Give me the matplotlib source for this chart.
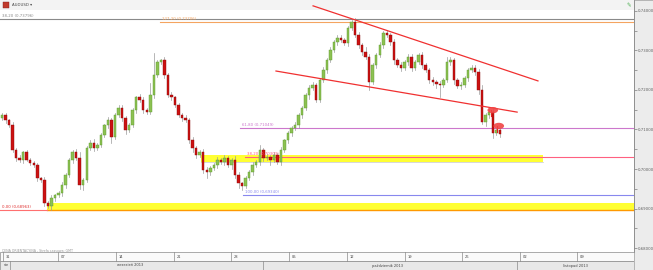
import matplotlib
matplotlib.use('Agg')
import matplotlib.pyplot as plt
from matplotlib.patches import Rectangle, Ellipse

# Kurs zamkniecia swiec (AUDUSD)
closes = [
    0.7137, 0.7124, 0.7111, 0.7048, 0.7028, 0.7023, 0.7043, 0.7023, 0.7015, 0.7010,
    0.6977, 0.6972, 0.6914, 0.6906, 0.6926, 0.6934, 0.6939, 0.6959, 0.6985, 0.7023,
    0.7043, 0.7028, 0.6959, 0.6972, 0.7053, 0.7066, 0.7053, 0.7061, 0.7086, 0.7111,
    0.7124, 0.7081, 0.7137, 0.7154, 0.7129, 0.7099, 0.7111, 0.7149, 0.7182, 0.7175,
    0.7149, 0.7144, 0.7187, 0.7238, 0.7271, 0.7276, 0.7238, 0.7187, 0.7182, 0.7162,
    0.7137, 0.7129, 0.7124, 0.7073, 0.7053, 0.7035, 0.7043, 0.6997, 0.6992, 0.7002,
    0.7010, 0.7023, 0.7018, 0.7028, 0.7010, 0.7023, 0.6985, 0.6964, 0.6957, 0.6977,
    0.6992, 0.7010, 0.7018, 0.7048, 0.7028, 0.7030, 0.7023, 0.7035, 0.7018, 0.7048,
    0.7073, 0.7091, 0.7104, 0.7111, 0.7137, 0.7154, 0.7187, 0.7205, 0.7213, 0.7175,
    0.7225, 0.7251, 0.7276, 0.7301, 0.7321, 0.7332, 0.7327, 0.7319, 0.7357, 0.7372,
    0.7339, 0.7314, 0.7296, 0.7283, 0.7220, 0.7263, 0.7289, 0.7314, 0.7344, 0.7339,
    0.7321, 0.7276, 0.7263, 0.7256, 0.7271, 0.7283, 0.7256, 0.7271, 0.7289, 0.7263,
    0.7251, 0.7225, 0.7220, 0.7215, 0.7213, 0.7225, 0.7271, 0.7276, 0.7225, 0.7210,
    0.7213, 0.7230, 0.7251, 0.7256, 0.7246, 0.7200, 0.7119, 0.7137, 0.7144, 0.7091,
    0.7099, 0.7089,
]
first_open = 0.7130

# Cienie swiec w pipsach (gorny / dolny)
up_wick = [
    4, 6, 3, 8, 5, 7, 3, 6, 4, 5,
    6, 4, 8, 5, 7, 3, 6, 9, 4, 5,
    6, 8, 14, 5, 4, 7, 9, 5, 6, 4,
    8, 6, 5, 7, 9, 4, 6, 5, 4, 7,
    6, 5, 30, 55, 6, 3, 7, 5, 8, 4,
    6, 5, 7, 4, 8, 6, 5, 7, 9, 6,
    5, 8, 6, 7, 5, 6, 9, 7, 4, 6,
    5, 7, 6, 12, 5, 8, 6, 9, 5, 7,
    4, 6, 5, 7, 4, 6, 5, 8, 6, 4,
    5, 6, 4, 7, 5, 6, 8, 4, 5, 5,
    9, 7, 6, 12, 8, 6, 5, 7, 6, 8,
    5, 7, 6, 9, 5, 7, 8, 6, 5, 7,
    6, 5, 7, 6, 8, 5, 12, 8, 6, 5,
    7, 6, 5, 8, 6, 7, 12, 6, 7, 9,
    6, 5,
]
lo_wick = [
    5, 7, 4, 6, 8, 5, 7, 4, 6, 5,
    8, 6, 7, 5, 10, 6, 5, 7, 6, 4,
    7, 5, 9, 12, 6, 5, 7, 4, 6, 5,
    7, 14, 5, 6, 8, 10, 6, 5, 7, 6,
    8, 6, 5, 7, 4, 6, 8, 5, 7, 6,
    5, 8, 6, 7, 9, 6, 5, 8, 14, 6,
    5, 7, 6, 8, 5, 9, 7, 12, 11, 6,
    5, 8, 6, 7, 9, 6, 12, 5, 6, 7,
    5, 6, 7, 5, 6, 8, 5, 9, 6, 5,
    6, 5, 7, 6, 5, 8, 6, 5, 7, 6,
    6, 8, 7, 5, 20, 6, 7, 5, 8, 6,
    7, 9, 6, 8, 6, 7, 9, 6, 5, 8,
    6, 7, 8, 10, 30, 6, 5, 7, 9, 6,
    8, 6, 7, 5, 8, 9, 6, 10, 7, 12,
    6, 8,
]

# Os cen
price_ticks = [0.68, 0.69, 0.70, 0.71, 0.72, 0.73, 0.74]
price_labels = ['0,68000', '0,69000', '0,70000', '0,71000', '0,72000', '0,73000', '0,74000']

# Os czasu (pozycje w numerach swiec)
day_pos = [0.3, 15.9, 32.3, 48.7, 64.9, 81.3, 97.7, 114.2, 130.3, 146.7, 162.9]
day_labels = ['31', '07', '14', '21', '28', '05', '12', '19', '26', '02', '09']
month_sep = [2.3, 73.9, 145.9]
month_pos = [1.1, 36.3, 109.3, 162.3]
month_labels = ['sie', 'wrzesień 2013', 'październik 2013', 'listopad 2013']

# Poziomy Fibonacciego: (cena, start, kolor, etykieta)
fib_levels = [
    (0.7380, -0.6, '#8a8a8a', '38,20 (0,73796)'),
    (0.7372, 44.8, '#f4a460', '127,20 (0,73706)'),
    (0.71049, 67.4, '#cc77cc', '61,80 (0,71049)'),
    (0.7030, 68.8, '#ff6080', '38,20 (0,70303)'),
    (0.6934, 68.3, '#8888ee', '100,00 (0,69340)'),
]
zero_level = 0.68963
zero_end = 12.7

# Strefy wsparcia (dol, gora, start, koniec)
zones = [
    (0.7018, 0.7036, 56.4, 153.3),
    (0.6896, 0.6914, 12.7, 179.0),
]

# Linie trendu
trend_upper = ([88.1, 151.8], [0.7413, 0.7223])
trend_lower = ([77.6, 145.9], [0.7248, 0.7144])

# Znaczniki
marks_x = [139.0, 140.7]
marks_y = [0.7149, 0.7109]

x_min, x_max = -0.57, 179.0
y_min, y_max = 0.67899, 0.74278

W, H = 653, 270
fig = plt.figure(figsize=(W / 100, H / 100), dpi=100)
fig.patches.append(Rectangle((634 / W, 0), 19 / W, 1, transform=fig.transFigure,
                             facecolor='#ececec', edgecolor='#9a9a9a', lw=0.5, zorder=-2))
fig.patches.append(Rectangle((0, 1 - 10 / H), 634 / W, 10 / H, transform=fig.transFigure,
                             facecolor='#f3f3f3', edgecolor='none', zorder=-2))

ax = fig.add_axes([0, 18 / H, 634 / W, 252 / H])
ax.set_facecolor('none')
ax.set_xlim(x_min, x_max)
ax.set_ylim(y_min, y_max)

# strefy
for lo, hi, x0, x1 in zones:
    ax.add_patch(Rectangle((x0, lo), x1 - x0, hi - lo, facecolor='#ffff33',
                           edgecolor='none', zorder=1))
ax.plot([zones[1][2], x_max], [zones[1][0], zones[1][0]], color='#ff9900', lw=1.0, zorder=2)
ax.plot([zones[0][2], zones[0][3]], [zones[0][0], zones[0][0]], color='#c8c8c8', lw=0.5, zorder=2)

# poziomy
for price, start, col, lab in fib_levels:
    ax.plot([start, x_max], [price, price], color=col, lw=0.8, zorder=2)
    ax.text(start + 0.6, price + 0.0002, lab, color=col, fontsize=2.8, va='bottom', zorder=6)
ax.plot([x_min, zero_end], [zero_level, zero_level], color='#ff7070', lw=0.8, zorder=2)
ax.text(x_min + 0.6, zero_level + 0.0002, '0,00 (0,68963)', color='#e03030', fontsize=2.8,
        va='bottom', zorder=6)

# swiece
opens = [first_open] + closes[:-1]
for i, (o, c) in enumerate(zip(opens, closes)):
    hi = max(o, c) + up_wick[i] / 10000
    lo = min(o, c) - lo_wick[i] / 10000
    ax.plot([i, i], [lo, hi], color='#9a9a9a', lw=0.5, zorder=3)
    body = max(abs(c - o), 0.00012)
    if c >= o:
        ax.bar(i, body, bottom=o, width=0.7, color='#8cc152', edgecolor='#5c9a2c',
               lw=0.3, zorder=4)
    else:
        ax.bar(i, body, bottom=c, width=0.7, color='#cc1111', edgecolor='#8a0a0a',
               lw=0.3, zorder=4)

# linie trendu
ax.plot(trend_upper[0], trend_upper[1], color='#f03030', lw=0.9, zorder=5)
ax.plot(trend_lower[0], trend_lower[1], color='#f03030', lw=0.9, zorder=5)

for mx, my in zip(marks_x, marks_y):
    ax.plot([mx - 0.6, mx - 0.6], [my - 0.0016, my], color='#e02020', lw=0.8, zorder=6)
    ax.add_patch(Ellipse((mx, my), 3.0, 0.0016, facecolor='#f04545', edgecolor='none',
                         alpha=0.9, zorder=7))

# os cen po prawej
ax.yaxis.tick_right()
ax.set_yticks(price_ticks)
ax.set_yticklabels(price_labels)
ax.set_yticks([0.685, 0.695, 0.705, 0.715, 0.725, 0.735], minor=True)
ax.tick_params(axis='y', which='both', direction='out', length=2, width=0.4,
               labelsize=2.8, pad=1, colors='#606060')
ax.set_xticks([])
for s in ['top', 'left', 'bottom']:
    ax.spines[s].set_visible(False)
ax.spines['right'].set_color('#8a8a8a')
ax.spines['right'].set_linewidth(0.6)

ax.text(x_min + 0.5, 0.6793, 'CENA ORIENTACYJNA - Strefa czasowa: GMT', fontsize=2.3,
        color='#9a9a9a', va='center')

# naglowek
fig.patches.append(Rectangle((3 / W, 1 - 8 / H), 6 / W, 6 / H, transform=fig.transFigure,
                             facecolor='#c0392b', edgecolor='#802020', lw=0.3, zorder=3))
fig.text(12 / W, 1 - 5 / H, 'AUDUSD ▾', fontsize=2.8, color='#444444', va='center')
fig.text(629 / W, 1 - 6 / H, '✎', fontsize=4, color='#4caf50', ha='center', va='center')

# os czasu
ax2 = fig.add_axes([0, 0, 634 / W, 18 / H])
ax2.set_xlim(x_min, x_max)
ax2.set_ylim(0, 2)
ax2.add_patch(Rectangle((x_min, 1), x_max - x_min, 1, facecolor='#fafafa',
                        edgecolor='#8a8a8a', lw=0.5))
ax2.add_patch(Rectangle((x_min, 0), x_max - x_min, 1, facecolor='#e8e8e8',
                        edgecolor='#8a8a8a', lw=0.5))
for p, lab in zip(day_pos, day_labels):
    ax2.plot([p, p], [1, 2], color='#8a8a8a', lw=0.5)
    ax2.text(p + 0.7, 1.5, lab, fontsize=2.6, color='#444444', va='center')
for p in month_sep:
    ax2.plot([p, p], [0, 1], color='#8a8a8a', lw=0.5)
for p, lab in zip(month_pos, month_labels):
    ax2.text(p, 0.5, lab, fontsize=2.6, color='#444444', va='center', ha='center')
ax2.axis('off')

fig.savefig('out.png', dpi=100)
